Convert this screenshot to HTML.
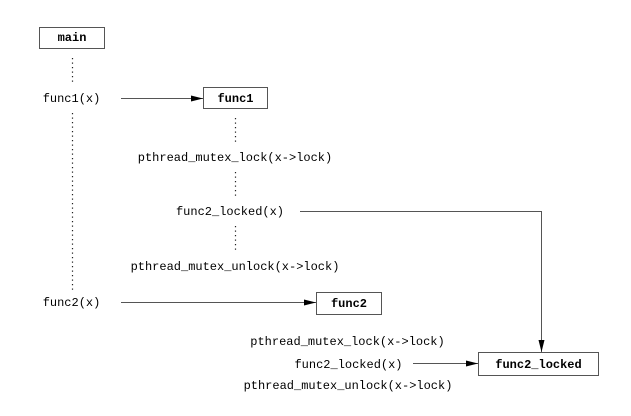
<!DOCTYPE html>
<html><head><meta charset="utf-8"><style>
html,body{margin:0;padding:0;background:#fff;}
svg text{font-family:"Liberation Mono","DejaVu Sans Mono",monospace;font-size:12px;fill:#000;}
svg text.b{font-weight:bold;}
</style></head><body>
<svg width="631" height="411" viewBox="0 0 631 411" xmlns="http://www.w3.org/2000/svg">
<defs><marker id="a" markerWidth="12" markerHeight="6" refX="12" refY="3" orient="auto" markerUnits="userSpaceOnUse"><path d="M0,0 L12,3 L0,6 z" fill="#000"/></marker></defs>
<g fill="#fff" stroke="#555" stroke-width="1">
<rect x="39.5" y="27.5" width="65" height="21"/>
<rect x="203.5" y="87.5" width="64" height="21"/>
<rect x="316.5" y="292.5" width="65" height="22"/>
<rect x="478.5" y="352.5" width="120" height="23"/>
</g>
<g stroke="#222" stroke-width="1.2" stroke-dasharray="1.2,3.3">
<line x1="72.5" y1="58" x2="72.5" y2="83"/>
<line x1="72.5" y1="113" x2="72.5" y2="290"/>
<line x1="235.5" y1="118" x2="235.5" y2="143"/>
<line x1="235.5" y1="172" x2="235.5" y2="196"/>
<line x1="235.5" y1="226" x2="235.5" y2="251"/>
</g>
<g stroke="#555" stroke-width="1" fill="none">
<line x1="121" y1="98.5" x2="203" y2="98.5" marker-end="url(#a)"/>
<line x1="121" y1="302.5" x2="316" y2="302.5" marker-end="url(#a)"/>
<line x1="413" y1="363.5" x2="478" y2="363.5" marker-end="url(#a)"/>
<polyline points="300,211.5 541.5,211.5 541.5,352" marker-end="url(#a)"/>
</g>
<text class="b" x="72" y="41" text-anchor="middle">main</text>
<text class="b" x="235.5" y="102" text-anchor="middle">func1</text>
<text class="b" x="349" y="307" text-anchor="middle">func2</text>
<text class="b" x="538.5" y="368" text-anchor="middle">func2_locked</text>
<text x="71.5" y="102" text-anchor="middle">func1(x)</text>
<text x="71.5" y="306" text-anchor="middle">func2(x)</text>
<text x="235" y="161" text-anchor="middle">pthread_mutex_lock(x-&gt;lock)</text>
<text x="230" y="215" text-anchor="middle">func2_locked(x)</text>
<text x="235" y="270" text-anchor="middle">pthread_mutex_unlock(x-&gt;lock)</text>
<text x="347.5" y="345" text-anchor="middle">pthread_mutex_lock(x-&gt;lock)</text>
<text x="348.5" y="368" text-anchor="middle">func2_locked(x)</text>
<text x="348" y="389" text-anchor="middle">pthread_mutex_unlock(x-&gt;lock)</text>
</svg>
</body></html>
